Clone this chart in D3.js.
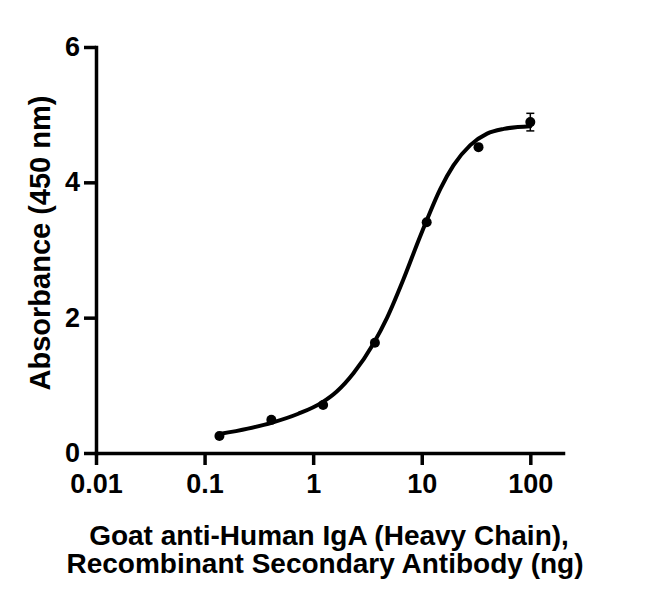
<!DOCTYPE html>
<html>
<head>
<meta charset="utf-8">
<script src="https://cdn.jsdelivr.net/npm/d3@7"></script>
<style>
  html, body { margin: 0; padding: 0; background: #fff; }
  svg { display: block; }
  text { font-family: "Liberation Sans", Arial, sans-serif; font-weight: bold; fill: #000; }
</style>
</head>
<body>
<svg id="chart" width="650" height="605"></svg>
<script>
// Measured data points (x in ng, y absorbance)
const concentrations = [0.137, 0.412, 1.235, 3.704, 11.11, 33.33, 100];
const absorbance = [0.25, 0.49, 0.71, 1.63, 3.41, 4.52, 4.89];
const errors = [0, 0, 0, 0, 0, 0, 0.13];

// Fitted curve
const curveX = [0.137, 0.25, 0.42, 0.73, 1.2, 1.65, 2.35, 3.6, 4.8, 6.8, 9.5, 10.8, 14.8, 19.6, 28, 40, 57, 100];
const curveY = [0.28, 0.36, 0.45, 0.58, 0.745, 0.91, 1.18, 1.62, 2.00, 2.57, 3.17, 3.39, 3.90, 4.25, 4.55, 4.72, 4.79, 4.83];

// Ticks
const xTicks = [0.01, 0.1, 1, 10, 100];
const xTickLabels = ["0.01", "0.1", "1", "10", "100"];
const yTicks = [0, 2, 4, 6];

const xTitle = ["Goat anti-Human IgA (Heavy Chain),", "Recombinant Secondary Antibody (ng)"];
const yTitle = "Absorbance (450 nm)";

const svg = d3.select("#chart");
const x = d3.scaleLog().domain([0.01, 200]).range([96, 563]);
const y = d3.scaleLinear().domain([0, 6]).range([453, 47]);

// X axis
const xAxis = d3.axisBottom(x)
  .tickValues(xTicks)
  .tickFormat((d, i) => xTickLabels[i])
  .tickSize(12).tickSizeOuter(0).tickPadding(9);
const gx = svg.append("g").attr("transform", `translate(0,${y(0)})`).call(xAxis);

// Y axis
const yAxis = d3.axisLeft(y)
  .tickValues(yTicks)
  .tickFormat(d3.format("d"))
  .tickSize(12).tickSizeOuter(0).tickPadding(4);
const gy = svg.append("g").attr("transform", `translate(${x(0.01)},0)`).call(yAxis);

[gx, gy].forEach(g => {
  g.select(".domain").attr("stroke", "#000").attr("stroke-width", 3.5).attr("stroke-linecap", "square");
  g.selectAll(".tick line").attr("stroke", "#000").attr("stroke-width", 3.5);
  g.selectAll(".tick text").style("font-size", "27px").style("font-family", "Liberation Sans, Arial, sans-serif").style("font-weight", "bold").attr("fill", "#000");
});

// Curve
const line = d3.line()
  .x((d, i) => x(curveX[i]))
  .y((d, i) => y(curveY[i]))
  .curve(d3.curveMonotoneX);
svg.append("path")
  .datum(curveX)
  .attr("d", line)
  .attr("fill", "none")
  .attr("stroke", "#000")
  .attr("stroke-width", 4)
  .attr("stroke-linecap", "round");

// Error bars
const eb = svg.append("g");
concentrations.forEach((c, i) => {
  if (errors[i] > 0) {
    const cx = x(c);
    const y1 = y(absorbance[i] + errors[i]);
    const y2 = y(absorbance[i] - errors[i]);
    eb.append("line").attr("x1", cx).attr("x2", cx).attr("y1", y1).attr("y2", y2).attr("stroke", "#000").attr("stroke-width", 1.5);
    eb.append("line").attr("x1", cx - 4).attr("x2", cx + 4).attr("y1", y1).attr("y2", y1).attr("stroke", "#000").attr("stroke-width", 1.5);
    eb.append("line").attr("x1", cx - 4).attr("x2", cx + 4).attr("y1", y2).attr("y2", y2).attr("stroke", "#000").attr("stroke-width", 1.5);
  }
});

// Points
svg.append("g").selectAll("circle")
  .data(concentrations)
  .join("circle")
  .attr("cx", d => x(d))
  .attr("cy", (d, i) => y(absorbance[i]))
  .attr("r", 5)
  .attr("fill", "#000");

// Titles
svg.append("text")
  .attr("transform", `translate(50,243) rotate(-90)`)
  .attr("text-anchor", "middle")
  .style("font-size", "29px")
  .text(yTitle);

svg.append("text")
  .attr("x", 329).attr("y", 545)
  .attr("text-anchor", "middle")
  .style("font-size", "28px")
  .text(xTitle[0]);
svg.append("text")
  .attr("x", 325).attr("y", 573)
  .attr("text-anchor", "middle")
  .style("font-size", "28px")
  .text(xTitle[1]);
</script>
</body>
</html>
